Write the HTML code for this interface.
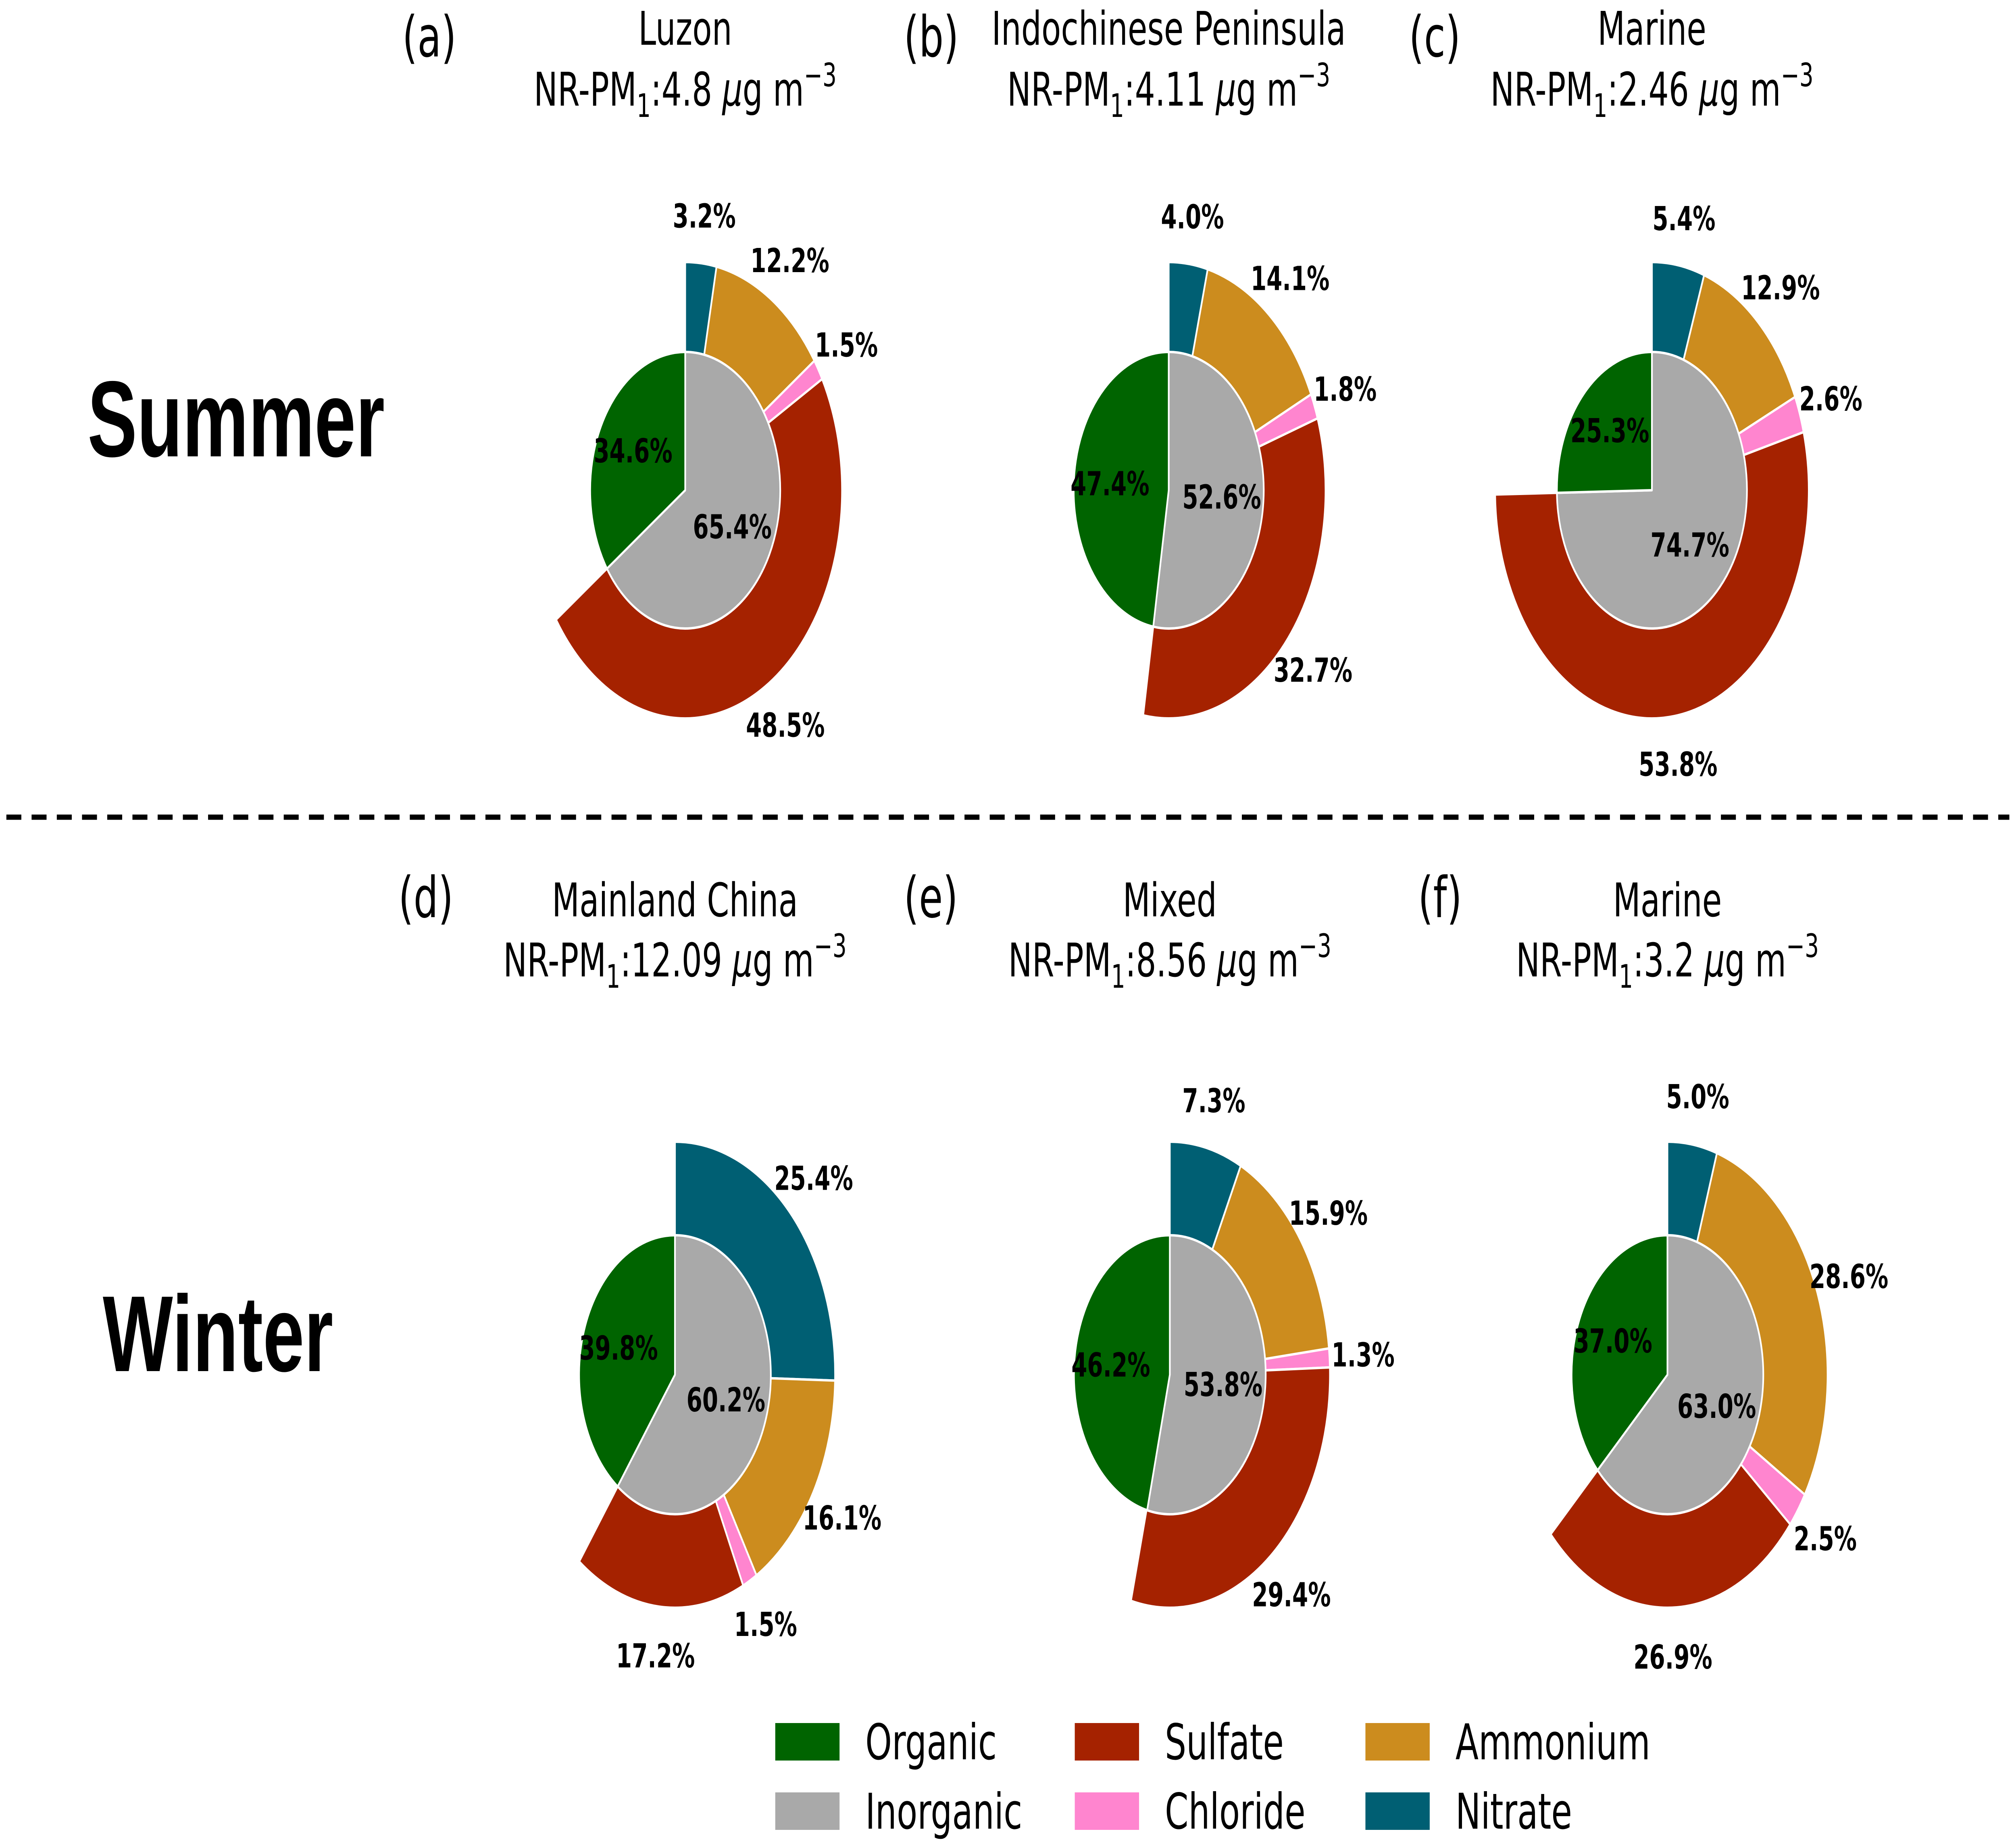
<!DOCTYPE html>
<html><head><meta charset="utf-8"><style>
html,body{margin:0;padding:0;background:#fff;overflow:hidden;width:100%;height:100%;}
svg{display:block;width:100vw;height:100vh;}
text{font-family:"DejaVu Sans","Liberation Sans",sans-serif;}
</style></head><body>
<svg id="fig" xmlns="http://www.w3.org/2000/svg" viewBox="0 0 7276 4579" preserveAspectRatio="none">
<rect width="7276" height="4579" fill="#fff"/>
<text x="316" y="1132" font-size="268" font-weight="bold" style="font-family:'Liberation Sans',sans-serif">Summer</text>
<text x="371" y="3401" font-size="268" font-weight="bold" style="font-family:'Liberation Sans',sans-serif">Winter</text>
<line x1="23" y1="2027" x2="7252" y2="2027" stroke="#000" stroke-width="13" stroke-dasharray="54 37"/>
<g id="charts"></g>
<g id="legend"></g>
</svg>
<script>
const panelLetters = ["(a)","(b)","(c)","(d)","(e)","(f)"];
const regions = ["Luzon","Indochinese Peninsula","Marine","Mainland China","Mixed","Marine"];
const totals = ["4.8","4.11","2.46","12.09","8.56","3.2"];
const organic = [34.6,47.4,25.3,39.8,46.2,37.0];
const inorganic = [65.4,52.6,74.7,60.2,53.8,63.0];
const nitrate = [3.2,4.0,5.4,25.4,7.3,5.0];
const ammonium = [12.2,14.1,12.9,16.1,15.9,28.6];
const chloride = [1.5,1.8,2.6,1.5,1.3,2.5];
const sulfate = [48.5,32.7,53.8,17.2,29.4,26.9];
const legendNames = ["Organic","Inorganic","Sulfate","Chloride","Ammonium","Nitrate"];

const NS="http://www.w3.org/2000/svg";
const COL={Organic:"#006400",Inorganic:"#a9a9a9",Sulfate:"#a52200",Chloride:"#ff85cf",Ammonium:"#cc8c1e",Nitrate:"#005f73"};
const layout=[
 {cx:2473,cy:1216,R:566,r:343,t1:111,t2:262,lx:1452,ly:140},
 {cx:4218,cy:1216,R:566,r:343,t1:111,t2:262,lx:3262,ly:140},
 {cx:5962,cy:1216,R:566,r:343,t1:111,t2:262,lx:5085,ly:140},
 {cx:2436,cy:3410,R:578,r:346,t1:2273,t2:2422,lx:1438,ly:2275},
 {cx:4222,cy:3410,R:578,r:346,t1:2273,t2:2422,lx:3262,ly:2275},
 {cx:6018,cy:3410,R:578,r:346,t1:2273,t2:2422,lx:5118,ly:2275}];
function el(t,a,p){const e=document.createElementNS(NS,t);for(const k in a)e.setAttribute(k,a[k]);p.appendChild(e);return e;}
function pt(cx,cy,rad,deg){const a=deg*Math.PI/180;return [cx+rad*Math.sin(a),cy-rad*Math.cos(a)];}
function wedge(cx,cy,rad,a0,a1){
 if(a1-a0>=359.99){return `M${cx-rad},${cy}A${rad},${rad} 0 1 1 ${cx+rad},${cy}A${rad},${rad} 0 1 1 ${cx-rad},${cy}Z`;}
 const p0=pt(cx,cy,rad,a0),p1=pt(cx,cy,rad,a1);const large=(a1-a0)>180?1:0;
 return `M${cx},${cy}L${p0[0]},${p0[1]}A${rad},${rad} 0 ${large} 1 ${p1[0]},${p1[1]}Z`;}
const charts=document.getElementById('charts');
for(let i=0;i<6;i++){
 const L=layout[i];
 const g=el('g',{},charts);
 
 
 const lt=el('text',{x:L.lx,y:L.ly,'font-size':140},g);lt.textContent=panelLetters[i];
 
 
 const t1=el('text',{x:L.cx,y:L.t1,'font-size':115,'text-anchor':'middle'},g);t1.textContent=regions[i];
 
 
 const t2=el('text',{x:L.cx,y:L.t2,'font-size':115,'text-anchor':'middle'},g);
 
 
 t2.innerHTML=`NR-PM<tspan font-size="80" dy="28">1</tspan><tspan dy="-28">:${totals[i]} </tspan><tspan font-style="italic">μ</tspan>g m<tspan font-size="80" dy="-48">−3</tspan>`;
 const outer=[["Nitrate",nitrate[i]],["Ammonium",ammonium[i]],["Chloride",chloride[i]],["Sulfate",sulfate[i]]];
 let a=0;const labels=[];
 for(const [nm,v] of outer){
  const a1=a+v*3.6;
  const p=el('path',{d:wedge(L.cx,L.cy,L.R,a,a1),fill:COL[nm],stroke:'#fff','stroke-width':6,'stroke-linejoin':'round'},g);
  
  
  const m=pt(L.cx,L.cy,L.R*1.21,(a+a1)/2);labels.push([m,v,nm]);a=a1;}
 const inner=[["Inorganic",inorganic[i],0.56],["Organic",organic[i],0.62]];
 a=0;
 for(const [nm,v,d] of inner){
  const a1=a+v*3.6;
  const p=el('path',{d:wedge(L.cx,L.cy,L.r,a,a1),fill:COL[nm],stroke:'#fff','stroke-width':6,'stroke-linejoin':'round'},g);
  
  
  const m=pt(L.cx,L.cy,L.r*d,(a+a1)/2);labels.push([m,v,nm]);a=a1;}
 for(const [m,v,nm] of labels){
  const t=el('text',{x:m[0],y:m[1]+30,'font-size':82,'font-weight':'bold','text-anchor':'middle'},g);
  t.textContent=v.toFixed(1)+'%';
  
  
 }
}
const lg=document.getElementById('legend');
const colX=[2798,3879,4928],rowY=[4320,4492];
legendNames.forEach((nm,k)=>{
 const c=Math.floor(k/2),r=k%2;
 const rc=el('rect',{x:colX[c],y:rowY[r]-46,width:232,height:93,fill:COL[nm]},lg);
 
 
 const t=el('text',{x:colX[c]+325,y:rowY[r]+44,'font-size':122},lg);t.textContent=nm;
 
 
});
</script>
</body></html>
